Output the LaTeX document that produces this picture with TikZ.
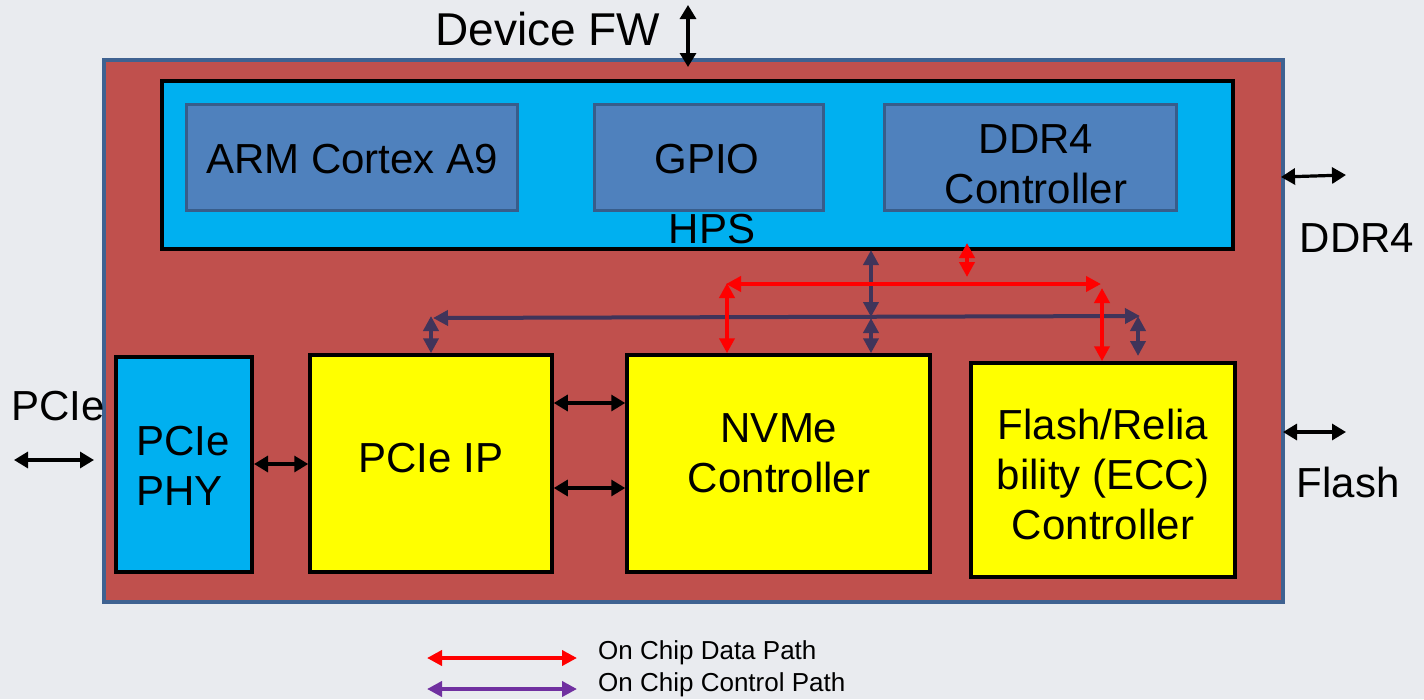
\documentclass[tikz,border=0pt]{standalone}
\usepackage{fontspec}
\setmainfont{Liberation Sans}
\usetikzlibrary{arrows.meta}
\definecolor{bg}{RGB}{233,235,239}
\definecolor{chip}{RGB}{192,80,77}
\definecolor{chipedge}{RGB}{63,98,145}
\definecolor{hpsblue}{RGB}{0,176,240}
\definecolor{subblue}{RGB}{79,129,189}
\definecolor{subedge}{RGB}{56,93,138}
\definecolor{ctrl}{RGB}{64,52,90}
\definecolor{datared}{RGB}{255,0,0}
\definecolor{legpurple}{RGB}{112,48,160}
\definecolor{blockyellow}{RGB}{255,255,0}
\begin{document}
\begin{tikzpicture}[x=1pt,y=-1pt,
  bigtxt/.style={font=\fontsize{42}{50}\selectfont, align=center, inner sep=0pt},
  legtxt/.style={font=\fontsize{26}{30}\selectfont, anchor=west, inner sep=0pt},
  chipbox/.style={draw=chipedge, fill=chip, line width=4pt, inner sep=0pt},
  hpsbox/.style={draw=black, fill=hpsblue, line width=3.5pt, inner sep=0pt},
  subbox/.style={draw=subedge, fill=subblue, line width=3pt, inner sep=0pt},
  ybox/.style={draw=black, fill=blockyellow, line width=3.5pt, inner sep=0pt},
  blk/.style={line width=3.2pt, draw=black, {Triangle[length=14pt,width=16pt]}-{Triangle[length=14pt,width=16pt]}},
  ctl/.style={line width=4pt, draw=ctrl, {Triangle[length=15pt,width=15pt]}-{Triangle[length=15pt,width=15pt]}},
  dat/.style={line width=4pt, draw=datared, {Triangle[length=15pt,width=15pt]}-{Triangle[length=15pt,width=15pt]}},
  legarr/.style={line width=4pt, {Triangle[length=15pt,width=15pt]}-{Triangle[length=15pt,width=15pt]}}
]
\useasboundingbox (0,0) rectangle (1424,699);
\fill[bg] (0,0) rectangle (1424,699);

% chip
\node[chipbox, minimum width=1179pt, minimum height=542pt] (chip) at (693.5,331) {};
% HPS
\node[hpsbox, minimum width=1071pt, minimum height=168pt] (hps) at (697.5,165) {};
\node[subbox, minimum width=331pt, minimum height=106pt] (arm) at (351.5,157) {};
\node[subbox, minimum width=229pt, minimum height=106pt] (gpio) at (708.5,157) {};
\node[subbox, minimum width=292pt, minimum height=106pt] (ddrc) at (1030,157) {};
\node[bigtxt] (armT) at (352,159) {ARM Cortex A9};
\node[bigtxt] (gpioT) at (707,159) {GPIO};
\node[bigtxt] (ddrcT) at (1036,164) {DDR4\\Controller};
\node[bigtxt] (hpsT) at (712,229) {HPS};

% lower blocks
\node[hpsbox, line width=4pt, minimum width=136pt, minimum height=215pt] (phy) at (184,464) {};
\node[ybox, minimum width=242pt, minimum height=217pt] (pcieip) at (431,463.5) {};
\node[ybox, minimum width=303pt, minimum height=217pt] (nvme) at (778.5,463.5) {};
\node[ybox, minimum width=264pt, minimum height=214pt] (flash) at (1103,470) {};
\node[bigtxt, align=left] (phyT) at (183,466) {PCIe\\PHY};
\node[bigtxt] (pcieipT) at (431,458) {PCIe IP};
\node[bigtxt] (nvmeT) at (779,453) {NVMe\\Controller};
\node[bigtxt] (flashT) at (1103,474) {Flash/Relia\\bility (ECC)\\Controller};

% external labels
\node[bigtxt, font=\fontsize{46}{50}\selectfont] (fwT) at (548,29) {Device FW};
\node[bigtxt] (ddrT) at (1357,238) {DDR4};
\node[bigtxt] (flT) at (1348,482) {Flash};
\node[bigtxt] (pcT) at (58,406) {PCIe};

% external arrows
\coordinate (fwTop) at (688,5);
\coordinate (fwBot) at (688,67);
\draw[blk] (fwTop) -- (fwBot);
\coordinate (ddrIn) at (1281,177);
\coordinate (ddrOut) at (1346,175);
\draw[blk] (ddrIn) -- (ddrOut);
\coordinate (flIn) at (1283,432);
\coordinate (flOut) at (1346,432);
\draw[blk] (flIn) -- (flOut);
\coordinate (pcOut) at (14,460);
\coordinate (pcIn) at (94,460);
\draw[blk] (pcOut) -- (pcIn);

% internal black links
\draw[blk] (phy.east |- 0,464) -- (pcieip.west |- 0,464);
\draw[blk] (pcieip.east |- 0,403) -- (nvme.west |- 0,403);
\draw[blk] (pcieip.east |- 0,488) -- (nvme.west |- 0,488);

% control bus
\coordinate (busL) at (433,318);
\coordinate (busR) at (1140,316);
\coordinate (busM) at (871,317);
\draw[ctl] (busL) -- (busR);
\draw[ctl] (871,250) -- (busM);
\draw[ctl] (871,318) -- (nvme.north -| 871,0);
\coordinate (ipTop) at (431,316);
\draw[ctl] (ipTop) -- (pcieip.north -| 431,0);
\coordinate (flCtlTop) at (1138,316);
\coordinate (flCtlBot) at (1138,356);
\draw[ctl] (flCtlTop) -- (flCtlBot);

% data path
\coordinate (dTop) at (967,243);
\coordinate (dBot) at (967,277);
\draw[dat] (dTop) -- (dBot);
\coordinate (dL) at (726,284);
\coordinate (dR) at (1101,284);
\draw[dat] (dL) -- (dR);
\draw[dat] (727,283) -- (nvme.north -| 727,0);
\coordinate (fdTop) at (1102,288);
\draw[dat] (fdTop) -- (flash.north -| 1102,0);

% legend
\coordinate (l1a) at (427,658);
\coordinate (l1b) at (577,658);
\coordinate (l2a) at (427,689);
\coordinate (l2b) at (577,689);
\draw[legarr, draw=datared] (l1a) -- (l1b);
\draw[legarr, draw=legpurple] (l2a) -- (l2b);
\node[legtxt] (leg1) at (598,653) {On Chip Data Path};
\node[legtxt] (leg2) at (598,685) {On Chip Control Path};
\end{tikzpicture}
\end{document}
